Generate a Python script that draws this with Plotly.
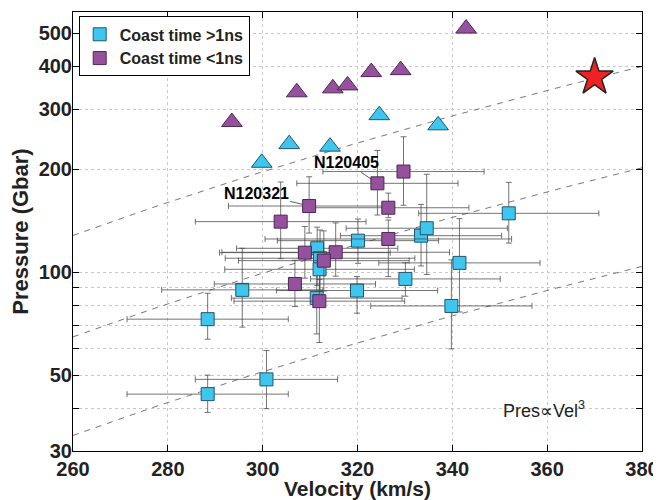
import numpy as np
import plotly.graph_objects as go

# ---------------- data ----------------
# Squares with error bars: coast time > 1 ns (cyan)
cyan_vel = [288.4, 288.4, 300.8, 295.7, 311.5, 312.1, 312.0, 311.4, 320.1, 319.9, 333.4, 334.6, 330.1, 351.9, 341.5, 339.8]
cyan_pres = [72.9, 44.0, 48.6, 88.8, 117.5, 109.9, 102.0, 84.0, 123.7, 88.4, 127.9, 134.5, 95.6, 148.7, 106.5, 79.7]
cyan_pres_up = [13.9, 6.0, 10.4, 28.7, 18, 23, 20, 16, 19.4, 8.7, 30, 59, 11, 34.5, 37, 29]
cyan_pres_dn = [9.2, 5.1, 8.7, 19.7, 26, 27, 22, 18, 17.5, 12.5, 23.6, 36, 10.5, 27, 30, 20]
cyan_vel_err = [17, 17, 15, 17, 17, 20, 20, 18, 17, 17, 17, 17, 20, 19, 17, 17]

# Squares with error bars: coast time < 1 ns (purple)
purple_vel = [309.8, 324.2, 329.7, 326.5, 303.8, 326.5, 308.9, 315.4, 312.9, 306.8, 311.95]
purple_pres = [156.2, 182, 197, 154.4, 140.6, 125.1, 114.1, 114.4, 108.1, 92.4, 82.3]
purple_pres_up = [34, 45, 52, 16, 43, 17, 22, 25, 24, 16, 13]
purple_pres_dn = [26, 35, 40, 10, 31, 28, 18, 17, 20, 13, 20]
purple_vel_err = [17, 17, 17, 17, 18, 26, 18, 24, 18, 17, 18]

# Triangles (no error bars)
tri_purple_vel = [293.5, 307.2, 314.8, 317.9, 322.9, 329.1, 342.9]
tri_purple_pres = [275, 336, 345, 352, 385, 390, 516]
tri_cyan_vel = [299.8, 305.6, 314.2, 324.6, 337.0]
tri_cyan_pres = [209, 237, 233, 288, 269]

# Star
star_vel = [370]
star_pres = [372]

# Pres ∝ Vel^3 guide lines (pressure at 380 km/s)
guide_ref_vel = 380
guide_ref_pres = [400, 202, 104]
guide_vel = np.linspace(260, 380, 61)

# Labelled shots
labels = ["N120321", "N120405"]
label_vel = [309.8, 324.2]
label_pres = [156.2, 182]

x_ticks = [260, 280, 300, 320, 340, 360, 380]
y_ticks = [30, 40, 50, 60, 70, 80, 90, 100, 200, 300, 400, 500]
y_tick_text = ["30", " ", "50", " ", " ", " ", " ", "100", "200", "300", "400", "500"]

# ---------------- figure ----------------
CYAN = "#3EC6EF"
CYAN_EDGE = "#21566c"
PURPLE = "#95509E"
PURPLE_EDGE = "#4d2852"
EB = "rgba(70,70,70,0.75)"
FONT = "Liberation Sans, Arial, Helvetica, sans-serif"

fig = go.Figure()

for k in guide_ref_pres:
    fig.add_trace(go.Scatter(
        x=guide_vel, y=k * (guide_vel / guide_ref_vel) ** 3,
        mode="lines", line=dict(color="#666666", width=0.9, dash="6px,6px"),
        showlegend=False, hoverinfo="skip"))

fig.add_trace(go.Scatter(
    x=cyan_vel, y=cyan_pres, mode="markers", name="Coast time >1ns",
    marker=dict(symbol="square", size=13, color=CYAN, line=dict(color=CYAN_EDGE, width=1)),
    error_x=dict(type="data", array=cyan_vel_err, color=EB, thickness=1, width=3),
    error_y=dict(type="data", symmetric=False, array=cyan_pres_up, arrayminus=cyan_pres_dn,
                 color=EB, thickness=1, width=3)))

fig.add_trace(go.Scatter(
    x=purple_vel, y=purple_pres, mode="markers", name="Coast time <1ns",
    marker=dict(symbol="square", size=13, color=PURPLE, line=dict(color=PURPLE_EDGE, width=1)),
    error_x=dict(type="data", array=purple_vel_err, color=EB, thickness=1, width=3),
    error_y=dict(type="data", symmetric=False, array=purple_pres_up, arrayminus=purple_pres_dn,
                 color=EB, thickness=1, width=3)))

fig.add_trace(go.Scatter(
    x=tri_purple_vel, y=tri_purple_pres, mode="markers", showlegend=False,
    marker=dict(symbol="triangle-up", size=18, color=PURPLE, line=dict(color=PURPLE_EDGE, width=1))))
fig.add_trace(go.Scatter(
    x=tri_cyan_vel, y=tri_cyan_pres, mode="markers", showlegend=False,
    marker=dict(symbol="triangle-up", size=18, color=CYAN, line=dict(color=CYAN_EDGE, width=1))))
fig.add_trace(go.Scatter(
    x=star_vel, y=star_pres, mode="markers", showlegend=False,
    marker=dict(symbol="star", size=28, color="#EE2222", line=dict(color="#222222", width=1.5))))

offsets = [(-53, -13), (-31, -21)]
for lab, v, p, (ax, ay) in zip(labels, label_vel, label_pres, offsets):
    fig.add_annotation(x=v, y=np.log10(p), xref="x", yref="y", text=lab,
                       showarrow=True, arrowhead=0, arrowwidth=0.8, arrowcolor="#333",
                       ax=ax, ay=ay, standoff=7,
                       font=dict(family=FONT, size=16, color="black", weight="bold"))

fig.add_annotation(x=0.8276, y=0.0955, xref="paper", yref="paper",
                   xanchor="center", yanchor="middle",
                   text="Pres\u221dVel<sup>3</sup>", showarrow=False,
                   font=dict(family=FONT, size=18, color="#222"))

axis_common = dict(
    showline=True, linecolor="black", linewidth=1, mirror="allticks",
    ticks="inside", ticklen=6, tickcolor="black",
    showgrid=True, gridcolor="#c8c8c8", griddash="dot", gridwidth=1,
    zeroline=False, automargin=False,
    tickfont=dict(family=FONT, size=20, color="#222", weight="bold"),
)

fig.update_xaxes(range=[260, 380], tickvals=x_ticks,
                 title=dict(text="Velocity (km/s)", standoff=4,
                            font=dict(family=FONT, size=21, color="#222", weight="bold")),
                 **axis_common)
fig.update_yaxes(type="log", range=[np.log10(30), np.log10(577)],
                 tickvals=y_ticks, ticktext=y_tick_text, ticklabelstandoff=-4,
                 title=dict(text="Pressure (Gbar)", standoff=4,
                            font=dict(family=FONT, size=22, color="#222", weight="bold")),
                 **axis_common)

fig.update_layout(
    width=653, height=492,
    margin=dict(l=65, r=19, t=4, b=49),
    plot_bgcolor="white", paper_bgcolor="white",
    legend=dict(x=0.01, y=0.99, xanchor="left", yanchor="top",
                bgcolor="white", bordercolor="black", borderwidth=1,
                font=dict(family=FONT, size=16, color="#222", weight="bold"),
                tracegroupgap=0, itemwidth=30),
)

fig.write_html("out.html")
